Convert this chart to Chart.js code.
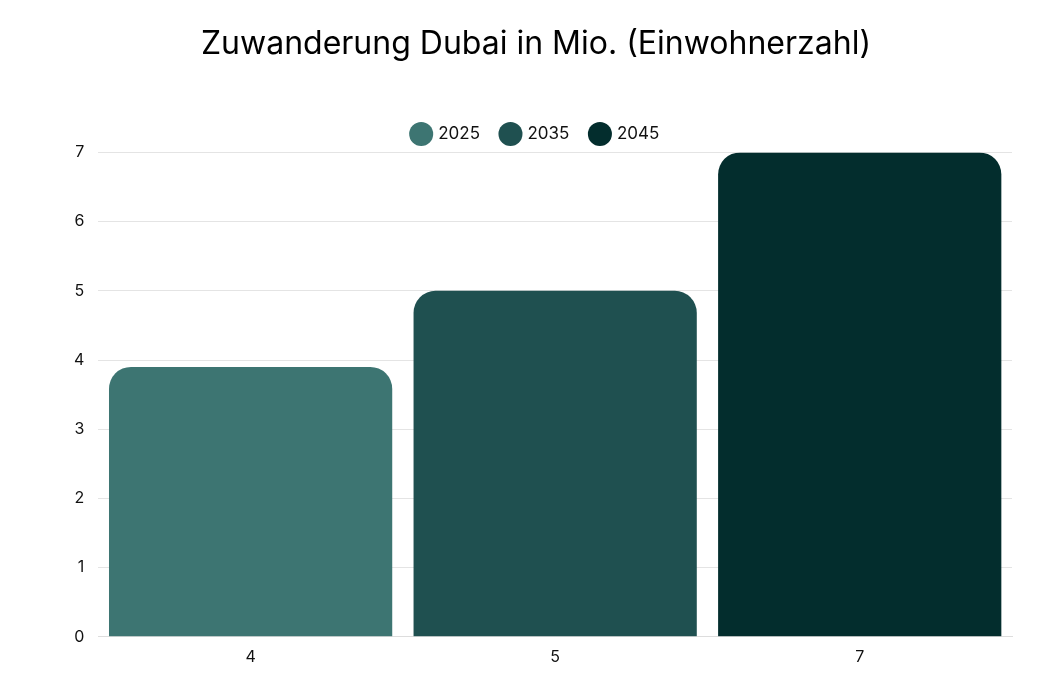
<!DOCTYPE html>
<html>
<head>
<meta charset="utf-8">
<script src="https://cdn.jsdelivr.net/npm/chart.js@4"></script>
<style>
body{margin:0;background:#fff;}
</style>
</head>
<body>
<canvas id="myChart" width="1050" height="680"></canvas>
<script>
const labels = ['4', '5', '7'];
const years = ['2025', '2035', '2045'];
const values2025 = [3.9, null, null];
const values2035 = [null, 5, null];
const values2045 = [null, null, 7];
const colors = ['#3d7572', '#1f5050', '#032d2d'];

const series = [values2025, values2035, values2045];
const ctx = document.getElementById('myChart').getContext('2d');
new Chart(ctx, {
	type: 'bar',
	data: {
		labels: labels,
		datasets: series.map((d, i) => ({
			label: years[i],
			data: d,
			backgroundColor: colors[i],
			borderRadius: {topLeft: 22, topRight: 22},
			borderSkipped: 'bottom',
			categoryPercentage: 0.93,
			barPercentage: 1
		}))
	},
	options: {
		responsive: false,
		animation: false,
		layout: {padding: {left: 60, right: 38, top: 20, bottom: 10}},
		plugins: {
			title: {
				display: true,
				text: 'Zuwanderung Dubai in Mio. (Einwohnerzahl)',
				color: '#000',
				font: {family: 'Inter', size: 32, weight: 'normal'},
				padding: {top: 5, bottom: 40}
			},
			legend: {
				labels: {
					usePointStyle: true,
					pointStyle: 'circle',
					boxWidth: 18,
					boxHeight: 18,
					padding: 22,
					color: '#111',
					font: {family: 'Inter', size: 17}
				}
			}
		},
		scales: {
			x: {
				stacked: true,
				grid: {display: false},
				border: {color: '#ddd'},
				ticks: {color: '#111', font: {family: 'Inter', size: 16}}
			},
			y: {
				stacked: true,
				min: 0,
				max: 7,
				ticks: {stepSize: 1, color: '#111', padding: 14, font: {family: 'Inter', size: 16}},
				grid: {color: '#e4e4e4', drawTicks: false},
				border: {display: false}
			}
		}
	}
});
</script>
</body>
</html>
